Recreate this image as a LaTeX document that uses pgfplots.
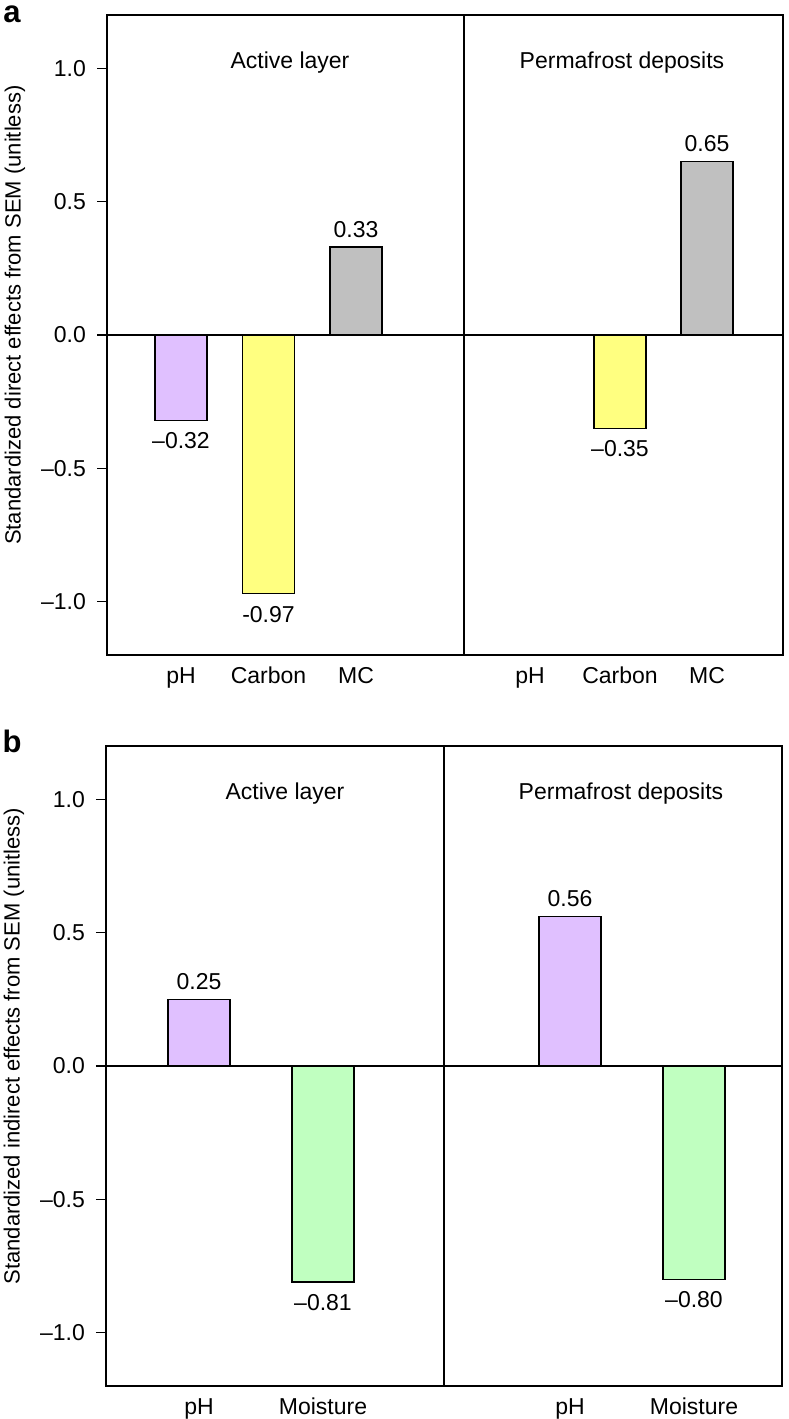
\documentclass[border=0pt]{standalone}
\usepackage{fontspec}
\setmainfont{Liberation Sans}
\usepackage{pgfplots}
\pgfplotsset{compat=1.18}
\definecolor{cpur}{RGB}{224,192,255}
\definecolor{cyel}{RGB}{255,255,128}
\definecolor{cgry}{RGB}{192,192,192}
\definecolor{cgrn}{RGB}{192,255,192}
\newcommand{\fs}{\fontsize{23}{27}\selectfont}
\pgfplotsset{
  panel/.style={
    scale only axis, width=676pt, height=640pt,
    ymin=-1.2, ymax=1.2,
    ytick={-1,-0.5,0,0.5,1},
    yticklabels={–1.0,–0.5,0.0,0.5,1.0},
    tick align=outside, ytick pos=left, xtick pos=bottom,
    major tick length=10pt,
    xtick style={draw=none},
    ytick style={black, line width=1.2pt},
    axis line style={black, line width=1.4pt},
    tick label style={font=\fs},
    yticklabel style={inner sep=0pt, xshift=-11pt},
    xticklabel style={inner sep=0pt, anchor=north, yshift=-2pt},
    ylabel style={font=\fontsize{22}{26}\selectfont, at={(axis description cs:-0.1361,0.531)}, anchor=center},
    clip=false,
  },
  bar/.style={ybar, bar shift=0pt, draw=black, line width=1.1pt,
    point meta=explicit symbolic, nodes near coords,
    nodes near coords style={font=\fs, inner sep=0pt}},
  up/.style={nodes near coords style={anchor=south, yshift=9pt}},
  dn/.style={nodes near coords style={anchor=north, yshift=-12pt}},
}
\begin{document}
\begin{tikzpicture}
\useasboundingbox (0,0) rectangle (788pt,-1419pt);
\node[font=\fontsize{31}{35}\selectfont\bfseries] at (12pt,-14pt) {a};
\node[font=\fontsize{31}{35}\selectfont\bfseries] at (12pt,-741pt) {b};
% Panel a
\begin{axis}[panel, at={(107pt,-15pt)}, anchor=north west,
  xmin=107, xmax=783,
  xtick={181,268.5,356,530,620,707},
  xticklabels={pH,Carbon,MC,pH,Carbon,MC},
  ylabel={Standardized direct effects from SEM (unitless)}]
\addplot[black, line width=1.1pt] coordinates {(107,0) (783,0)};
\addplot[black, line width=1.1pt] coordinates {(464,-1.2) (464,1.2)};
\addplot[bar, dn, bar width=52pt, fill=cpur] coordinates {(181,-0.32) [{–0.32}]};
\addplot[bar, dn, bar width=52pt, fill=cyel] coordinates {(268.5,-0.97) [{-0.97}]};
\addplot[bar, up, bar width=52pt, fill=cgry] coordinates {(356,0.33) [{0.33}]};
\addplot[bar, dn, bar width=52pt, fill=cyel] coordinates {(620,-0.35) [{–0.35}]};
\addplot[bar, up, bar width=52pt, fill=cgry] coordinates {(707,0.65) [{0.65}]};
\node[font=\fs, anchor=base] at (axis cs:290,1.0) {Active layer};
\node[font=\fs, anchor=base] at (axis cs:622,1.0) {Permafrost deposits};
\end{axis}
% Panel b
\begin{axis}[panel, at={(106pt,-746pt)}, anchor=north west,
  xmin=106, xmax=782,
  xtick={199,323,570,694},
  xticklabels={pH,Moisture,pH,Moisture},
  ylabel={Standardized indirect effects from SEM (unitless)}]
\addplot[black, line width=1.1pt] coordinates {(106,0) (782,0)};
\addplot[black, line width=1.1pt] coordinates {(444,-1.2) (444,1.2)};
\addplot[bar, up, bar width=62pt, fill=cpur] coordinates {(199,0.25) [{0.25}]};
\addplot[bar, dn, bar width=62pt, fill=cgrn] coordinates {(323,-0.81) [{–0.81}]};
\addplot[bar, up, bar width=62pt, fill=cpur] coordinates {(570,0.56) [{0.56}]};
\addplot[bar, dn, bar width=62pt, fill=cgrn] coordinates {(694,-0.80) [{–0.80}]};
\node[font=\fs, anchor=base] at (axis cs:285,1.0) {Active layer};
\node[font=\fs, anchor=base] at (axis cs:621,1.0) {Permafrost deposits};
\end{axis}
\end{tikzpicture}
\end{document}
